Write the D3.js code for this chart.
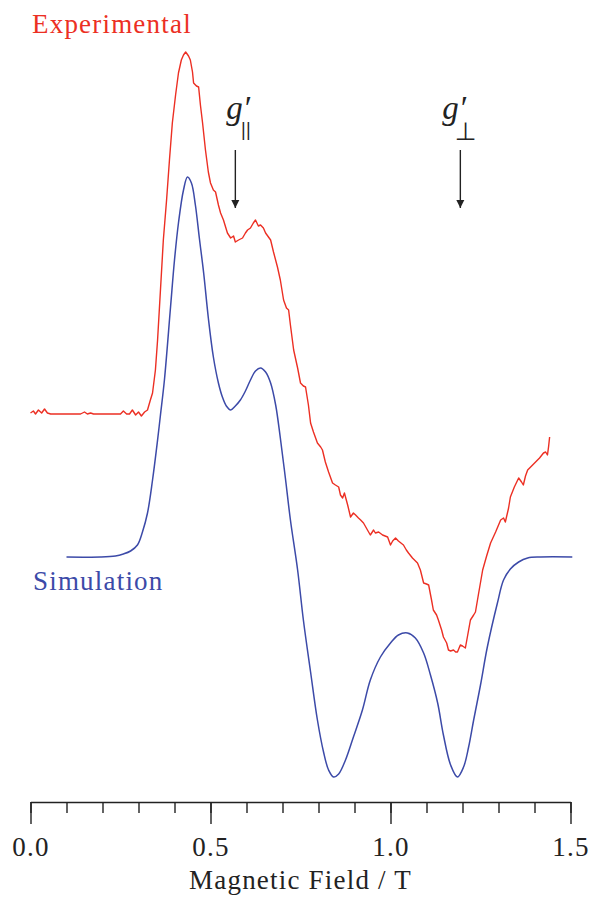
<!DOCTYPE html>
<html>
<head>
<meta charset="utf-8">
<script src="https://cdn.jsdelivr.net/npm/d3@7"></script>
<style>
  body { margin: 0; background: #fff; }
  svg { display: block; }
</style>
</head>
<body>
<div id="chart-area"></div>
<script>
// EPR spectrum: experimental trace vs simulation (arbitrary intensity units)

var expField = [0.000,0.008,0.014,0.022,0.031,0.039,0.047,0.056,0.083,0.111,0.139,0.150,0.158,0.167,0.175,0.194,0.222,0.250,0.258,0.267,0.275,0.283,0.292,0.300,0.308,0.317,0.325,0.333,0.339,0.347,0.353,0.361,0.369,0.378,0.386,0.394,0.403,0.411,0.419,0.425,0.431,0.439,0.444,0.450,0.453,0.461,0.467,0.472,0.478,0.486,0.494,0.500,0.508,0.514,0.522,0.528,0.536,0.547,0.556,0.564,0.569,0.578,0.589,0.597,0.603,0.611,0.619,0.625,0.633,0.639,0.647,0.653,0.661,0.667,0.675,0.686,0.694,0.703,0.711,0.717,0.722,0.731,0.742,0.750,0.758,0.764,0.772,0.778,0.786,0.797,0.806,0.811,0.819,0.828,0.839,0.847,0.856,0.861,0.867,0.872,0.881,0.889,0.897,0.903,0.911,0.917,0.925,0.936,0.944,0.953,0.958,0.967,0.978,0.992,1.000,1.006,1.014,1.022,1.036,1.044,1.050,1.061,1.075,1.083,1.092,1.100,1.106,1.114,1.119,1.128,1.133,1.142,1.147,1.156,1.161,1.167,1.175,1.181,1.186,1.194,1.200,1.208,1.217,1.222,1.231,1.236,1.244,1.256,1.267,1.278,1.292,1.306,1.314,1.319,1.328,1.333,1.344,1.356,1.364,1.369,1.375,1.381,1.392,1.403,1.414,1.425,1.431,1.436,1.439,1.442];
var expSignal = [0,2,-1,3,0,4,0,-1,-1,-1,-1,1,-1,0,-1,-1,-1,-1,2,-1,-1,3,-2,1,-3,1,3,13,20,43,73,123,173,213,253,290,318,340,353,358,361,357,353,341,330,327,326,308,290,263,241,230,223,221,208,200,193,180,175,177,171,173,175,180,183,185,190,193,187,188,185,180,176,173,161,146,133,113,105,103,88,63,45,30,27,26,8,-10,-19,-30,-34,-37,-49,-59,-70,-72,-74,-82,-85,-80,-92,-104,-100,-102,-105,-107,-110,-117,-122,-117,-120,-119,-122,-124,-132,-128,-125,-128,-132,-137,-140,-145,-150,-157,-170,-171,-172,-187,-197,-202,-207,-217,-224,-230,-237,-238,-237,-239,-239,-232,-233,-235,-217,-207,-202,-199,-182,-157,-143,-130,-119,-107,-105,-109,-95,-84,-74,-65,-69,-72,-63,-57,-53,-49,-45,-40,-39,-42,-34,-24];

var simField = [0.100,0.194,0.236,0.258,0.278,0.297,0.311,0.325,0.339,0.353,0.361,0.372,0.389,0.400,0.411,0.425,0.436,0.447,0.458,0.469,0.481,0.494,0.508,0.522,0.533,0.544,0.556,0.569,0.583,0.597,0.611,0.625,0.639,0.653,0.667,0.681,0.694,0.708,0.722,0.742,0.758,0.778,0.797,0.814,0.828,0.842,0.856,0.875,0.897,0.922,0.944,0.972,1.000,1.022,1.047,1.069,1.092,1.111,1.131,1.147,1.167,1.186,1.203,1.217,1.231,1.250,1.269,1.297,1.314,1.333,1.356,1.381,1.417,1.505];
var simSignal = [0,0,1,3,6,12,25,44,77,117,142,177,250,297,334,367,380,374,352,319,284,239,200,174,160,151,147,151,157,166,177,186,189,185,174,152,119,79,37,-13,-63,-115,-163,-195,-213,-220,-217,-203,-180,-153,-123,-100,-86,-78,-76,-81,-96,-118,-146,-178,-208,-220,-210,-190,-163,-128,-90,-46,-23,-12,-5,-1,0,0];

var expOffset = 144;   // vertical stacking of the experimental trace

var majorTicks = [0.0, 0.5, 1.0, 1.5];
var minorTicks = d3.range(0, 16).map(function(i){ return i / 10; });

var gMarks = [
  {field: 0.569, sub: "||"},
  {field: 1.194, sub: "\u22A5"}
];

var width = 595, height = 897;
var red = "#ec2f23", blue = "#3c4aa8", ink = "#222";
var serif = "'Liberation Serif', 'Times New Roman', serif";

var svg = d3.select("#chart-area")
  .append("svg")
    .attr("width", width)
    .attr("height", height);

var x = d3.scaleLinear().domain([0, 1.5]).range([30.5, 570.5]);
var y = d3.scaleLinear().domain([-230, 530]).range([787, 27]);
var axisY = 802;

var expData = expField.map(function(f, i){ return [f, expSignal[i] + expOffset]; });
var simData = simField.map(function(f, i){ return [f, simSignal[i]]; });

var expLine = d3.line()
  .x(function(d){ return x(d[0]); })
  .y(function(d){ return y(d[1]); });

var simLine = d3.line()
  .curve(d3.curveCatmullRom.alpha(0.5))
  .x(function(d){ return x(d[0]); })
  .y(function(d){ return y(d[1]); });

svg.append("path")
  .datum(simData)
  .attr("d", simLine)
  .attr("fill", "none")
  .attr("stroke", blue)
  .attr("stroke-width", 1.5);

svg.append("path")
  .datum(expData)
  .attr("d", expLine)
  .attr("fill", "none")
  .attr("stroke", red)
  .attr("stroke-width", 1.4)
  .attr("stroke-linejoin", "round");

// axis: minor ticks every 0.1, long ticks with labels every 0.5
var minorAxis = d3.axisBottom(x)
  .tickValues(minorTicks)
  .tickSize(11)
  .tickSizeOuter(0)
  .tickFormat("");

var majorAxis = d3.axisBottom(x)
  .tickValues(majorTicks)
  .tickSize(22)
  .tickSizeOuter(0)
  .tickPadding(13)
  .tickFormat(d3.format(".1f"));

var gMinor = svg.append("g").attr("transform", "translate(0," + axisY + ")").call(minorAxis);
var gMajor = svg.append("g").attr("transform", "translate(0," + axisY + ")").call(majorAxis);
gMajor.select(".domain").remove();

svg.selectAll(".domain, .tick line")
  .attr("stroke", ink)
  .attr("stroke-width", 1.4);

gMajor.selectAll(".tick text")
  .attr("fill", ink)
  .attr("font-family", serif)
  .attr("font-size", "27px")
  .attr("letter-spacing", "1.2px");

svg.append("text")
  .attr("x", (x(0) + x(1.5)) / 2)
  .attr("y", 889)
  .attr("text-anchor", "middle")
  .attr("font-family", serif)
  .attr("font-size", "27px")
  .attr("letter-spacing", "1.2px")
  .attr("fill", ink)
  .text("Magnetic Field / T");

// series labels
svg.append("text")
  .attr("x", 32)
  .attr("y", 33)
  .attr("font-family", serif)
  .attr("font-size", "27px")
  .attr("letter-spacing", "1.2px")
  .attr("fill", red)
  .text("Experimental");

svg.append("text")
  .attr("x", 33)
  .attr("y", 590)
  .attr("font-family", serif)
  .attr("font-size", "27px")
  .attr("letter-spacing", "1.2px")
  .attr("fill", blue)
  .text("Simulation");

// g' markers with arrows
svg.append("defs").append("marker")
  .attr("id", "head")
  .attr("viewBox", "0 0 10 10")
  .attr("refX", 10).attr("refY", 5)
  .attr("markerWidth", 8).attr("markerHeight", 9)
  .attr("markerUnits", "userSpaceOnUse")
  .attr("orient", "auto")
  .append("path")
    .attr("d", "M0,0 L10,5 L0,10 Z")
    .attr("fill", ink);

var gOffset = [-9, -18];
var subX = [5.1, -5.5];
var subSize = [17, 25];
var subBase = [136, 140];
var subSpacing = ["-0.7px", "0px"];

var marks = svg.selectAll(".gmark")
  .data(gMarks)
  .enter().append("g")
    .attr("class", "gmark")
    .attr("transform", function(d){ return "translate(" + x(d.field) + ",0)"; });

marks.append("line")
  .attr("y1", 150).attr("y2", 208)
  .attr("stroke", ink)
  .attr("stroke-width", 1.4)
  .attr("marker-end", "url(#head)");

var label = marks.append("text")
  .attr("x", function(d, i){ return gOffset[i]; })
  .attr("y", 119)
  .attr("font-family", serif)
  .attr("font-size", "33px")
  .attr("fill", ink);

label.append("tspan")
  .attr("font-style", "italic")
  .text("g\u2032");

label.append("tspan")
  .attr("x", function(d, i){ return subX[i]; })
  .attr("y", function(d, i){ return subBase[i]; })
  .attr("font-family", "'DejaVu Sans', sans-serif")
  .attr("font-size", function(d, i){ return subSize[i] + "px"; })
  .attr("letter-spacing", function(d, i){ return subSpacing[i]; })
  .text(function(d){ return d.sub; });
</script>
</body>
</html>
